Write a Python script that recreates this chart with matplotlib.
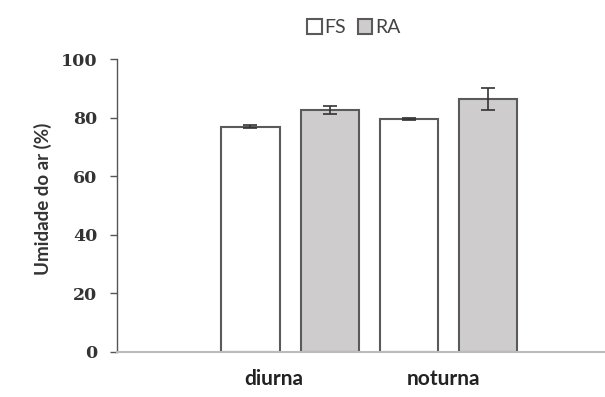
import matplotlib
matplotlib.use("Agg")
import matplotlib.pyplot as plt
import numpy as np

categories = ["diurna", "noturna"]
series = ["FS", "RA"]
fs_values = [77.0, 79.5]
fs_err = [0.5, 0.4]
ra_values = [82.7, 86.5]
ra_err = [1.4, 3.7]
y_ticks = [0, 20, 40, 60, 80, 100]

fig = plt.figure(figsize=(6.05, 3.97), dpi=100)
ax = fig.add_axes([0.193, 0.1134, 0.807, 0.7376])

x = np.arange(len(categories))
w = 0.367
off = 0.25
edge = "#5a5a5a"
ekw = dict(ecolor="#333333", elinewidth=1.2, capsize=5, capthick=1.2)
ax.bar(x - off, fs_values, w, color="white", edgecolor=edge, linewidth=1.5,
       yerr=fs_err, error_kw=ekw, label=series[0], zorder=2)
ax.bar(x + off, ra_values, w, color="#cfcccd", edgecolor=edge, linewidth=1.5,
       yerr=ra_err, error_kw=ekw, label=series[1], zorder=2)

ax.set_ylim(0, 100)
ax.set_xlim(-1.095, 1.99)
ax.set_yticks(y_ticks)
ax.set_yticklabels([str(t) for t in y_ticks], family="DejaVu Serif", fontweight="bold",
                   fontsize=12.5, color="#333333")
ax.set_xticks(x + np.array([-0.1, -0.03]))
ax.set_xticklabels(categories, family="Lato", fontweight="bold", fontsize=15, color="#222222")
ax.tick_params(axis="x", length=0, pad=12)
ax.tick_params(axis="y", length=5, width=1, color="#555555", direction="out", pad=9)

for s in ["top", "right"]:
    ax.spines[s].set_visible(False)
ax.spines["left"].set_color("#555555")
ax.spines["bottom"].set_color("#bbbbbb")
ax.spines["left"].set_linewidth(1.0)
ax.spines["bottom"].set_linewidth(1.5)

fig.text(0.071, 0.5, "Umidade do ar (%)", rotation=90, va="center", ha="center",
         family="Lato", fontweight="bold", fontsize=13.5, color="#333333")

leg = fig.legend(loc="center", bbox_to_anchor=(0.585, 0.93), ncol=2, frameon=False,
                 handlelength=0.75, handleheight=0.75, handletextpad=0.15, columnspacing=0.6,
                 prop=dict(family="Lato", size=14))
for t in leg.get_texts():
    t.set_color("#444444")

fig.savefig("out.png", dpi=100)
